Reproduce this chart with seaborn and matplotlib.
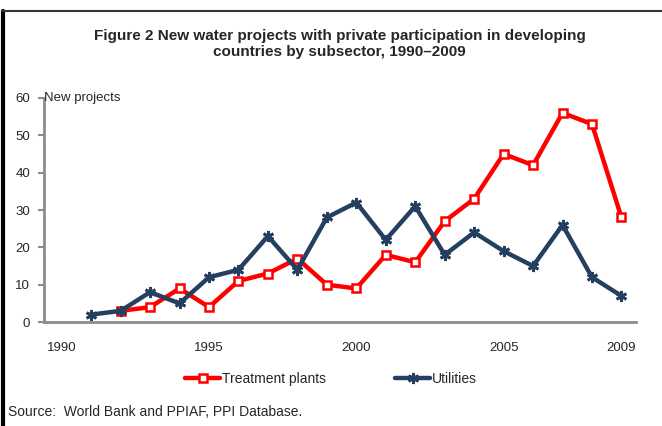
"""
Figure 2 - new water projects with private participation, by subsector
"""
import pandas as pd
import numpy as np
import matplotlib.pyplot as plt
import seaborn as sns
from matplotlib.lines import Line2D

sns.set_style("white")
plt.rcParams['font.family'] = ['Liberation Sans', 'DejaVu Sans']

# ========== data ==========
treat_years = list(range(1992, 2010))
treat_vals = [3, 4, 9, 4, 11, 13, 17, 10, 9, 18, 16, 27, 33, 45, 42, 56, 53, 28]

util_years = list(range(1991, 2010))
util_vals = [2, 3, 8, 5, 12, 14, 23, 14, 28, 32, 22, 31, 18, 24, 19, 15, 26, 12, 7]

x_ticks = [1990, 1995, 2000, 2005, 2009]
y_ticks = [0, 10, 20, 30, 40, 50, 60]

df_t = pd.DataFrame({'year': treat_years, 'n': treat_vals})
df_u = pd.DataFrame({'year': util_years, 'n': util_vals})

RED = '#ff0000'
NAVY = '#243f60'

fig = plt.figure(figsize=(6.62, 4.26), dpi=100)
ax = fig.add_axes([0.0665, 0.244, 0.8945, 0.526])

sns.lineplot(data=df_t, x='year', y='n', ax=ax, color=RED, linewidth=3.2,
             marker='s', markersize=6, markerfacecolor='white',
             markeredgecolor=RED, markeredgewidth=1.8, label='Treatment plants')
sns.lineplot(data=df_u, x='year', y='n', ax=ax, color=NAVY, linewidth=3.2,
             marker=(6, 2, 0), markersize=8, markeredgecolor=NAVY,
             markeredgewidth=2.0, label='Utilities')

ax.set_xlim(1989.4, 2009.5)
ax.set_ylim(0, 60)
ax.set_xticks(x_ticks)
ax.set_yticks(y_ticks)
ax.set_xlabel('')
ax.set_ylabel('')
ax.tick_params(axis='x', length=0, pad=14, labelsize=9.5)
ax.tick_params(axis='y', length=4, width=1.5, color='#8c8c8c', labelsize=9.5, pad=6, left=True)
for s in ['top', 'right']:
    ax.spines[s].set_visible(False)
for s in ['left', 'bottom']:
    ax.spines[s].set_color('#8c8c8c')
    ax.spines[s].set_linewidth(2)
for ln in ax.lines:
    ln.set_clip_on(False)

ax.text(0.0, 1.0, 'New projects', transform=ax.transAxes, fontsize=9.5,
        ha='left', va='center')

fig.text(0.513, 0.897, 'Figure 2 New water projects with private participation in developing\n'
         'countries by subsector, 1990\u20132009', ha='center', va='center',
         fontsize=11, fontweight='bold', linespacing=1.15)

ax.legend(loc='center', bbox_to_anchor=(0.485, -0.255), ncol=2, frameon=False,
          fontsize=10, handlelength=2.5, handletextpad=0.15, columnspacing=5.0)

fig.text(0.012, 0.033, 'Source:  World Bank and PPIAF, PPI Database.', fontsize=10,
         ha='left', va='center')

# outer frame
fig.add_artist(Line2D([0.005, 0.005], [0, 0.975], color='black', linewidth=3,
                      transform=fig.transFigure))
fig.add_artist(Line2D([0.003, 1.0], [0.974, 0.974], color='#333333', linewidth=1.5,
                      transform=fig.transFigure))

plt.savefig('out.png', dpi=100)
plt.close()
